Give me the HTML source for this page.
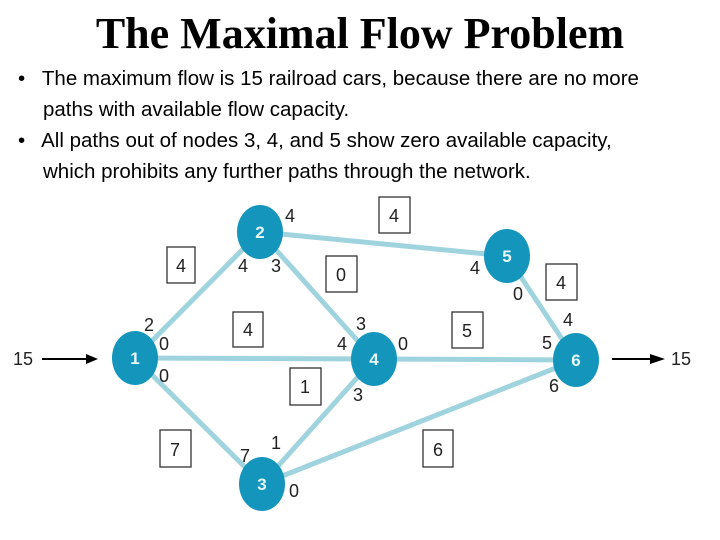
<!DOCTYPE html>
<html><head><meta charset="utf-8"><style>
body{margin:0;width:720px;height:540px;background:#fff;overflow:hidden;position:relative}
h1{position:absolute;top:8px;left:0;width:720px;margin:0;text-align:center;font:bold 44px "Liberation Serif",serif;color:#000}
.b{position:absolute;left:18px;width:700px;font:20.5px "Liberation Sans",sans-serif;color:#000;line-height:31px;white-space:nowrap}
.b div{padding-left:25px;text-indent:-25px}
</style></head><body>
<h1>The Maximal Flow Problem</h1>
<div class="b" style="top:63px">
<div>•&nbsp;&nbsp; The maximum flow is 15 railroad cars, because there are no more<br>paths with available flow capacity.</div>
<div>•&nbsp;&nbsp; All paths out of nodes 3, 4, and 5 show zero available capacity,<br>which prohibits any further paths through the network.</div>
</div>
<svg width="720" height="540" style="position:absolute;left:0;top:0" font-family="Liberation Sans,sans-serif">
<g stroke="#9fd3de" stroke-width="5">
<line x1="135" y1="358" x2="260" y2="232"/>
<line x1="135" y1="358" x2="374" y2="359"/>
<line x1="135" y1="358" x2="262" y2="484"/>
<line x1="260" y1="232" x2="374" y2="359"/>
<line x1="260" y1="232" x2="507" y2="256"/>
<line x1="262" y1="484" x2="374" y2="359"/>
<line x1="262" y1="484" x2="576" y2="360"/>
<line x1="374" y1="359" x2="576" y2="360"/>
<line x1="507" y1="256" x2="576" y2="360"/>
</g>
<g fill="#1495bb">
<ellipse cx="135" cy="358" rx="23" ry="27"/>
<ellipse cx="260" cy="232" rx="23" ry="27"/>
<ellipse cx="262" cy="484" rx="23" ry="27"/>
<ellipse cx="374" cy="359" rx="23" ry="27"/>
<ellipse cx="507" cy="256" rx="23" ry="27"/>
<ellipse cx="576" cy="360" rx="23" ry="27"/>
</g>
<g fill="#e6f7fb" font-weight="bold" font-size="17" text-anchor="middle">
<text x="135" y="364">1</text><text x="260" y="238">2</text><text x="262" y="490">3</text>
<text x="374" y="365">4</text><text x="507" y="262">5</text><text x="576" y="366">6</text>
</g>
<g fill="#fff" stroke="#333" stroke-width="1.3">
<rect x="167" y="247" width="28" height="36"/>
<rect x="233" y="312" width="30" height="35"/>
<rect x="290" y="368" width="31" height="37"/>
<rect x="160" y="430" width="31" height="37"/>
<rect x="326" y="256" width="31" height="36"/>
<rect x="379" y="197" width="31" height="36"/>
<rect x="546" y="264" width="31" height="36"/>
<rect x="452" y="312" width="31" height="36"/>
<rect x="423" y="430" width="30" height="37"/>
</g>
<g fill="#222" font-size="18" text-anchor="middle">
<text x="181" y="272">4</text><text x="248" y="336">4</text><text x="305" y="393">1</text>
<text x="175" y="456">7</text><text x="341" y="281">0</text><text x="394" y="222">4</text>
<text x="561" y="289">4</text><text x="467" y="337">5</text><text x="438" y="456">6</text>
<text x="149" y="331">2</text><text x="164" y="350">0</text><text x="164" y="382">0</text>
<text x="243" y="272">4</text><text x="276" y="272">3</text><text x="290" y="222">4</text>
<text x="245" y="462">7</text><text x="276" y="449">1</text><text x="294" y="497">0</text>
<text x="361" y="330">3</text><text x="342" y="350">4</text><text x="403" y="350">0</text><text x="358" y="401">3</text>
<text x="475" y="274">4</text><text x="518" y="300">0</text>
<text x="568" y="326">4</text><text x="547" y="349">5</text><text x="554" y="392">6</text>
<text x="23" y="365">15</text><text x="681" y="365">15</text>
</g>
<g stroke="#000" stroke-width="2"><line x1="42" y1="359" x2="88" y2="359"/><line x1="612" y1="359" x2="652" y2="359"/></g>
<polygon points="86,354 98,359 86,364" fill="#000"/>
<polygon points="650,354 665,359 650,364" fill="#000"/>
</svg>
</body></html>
